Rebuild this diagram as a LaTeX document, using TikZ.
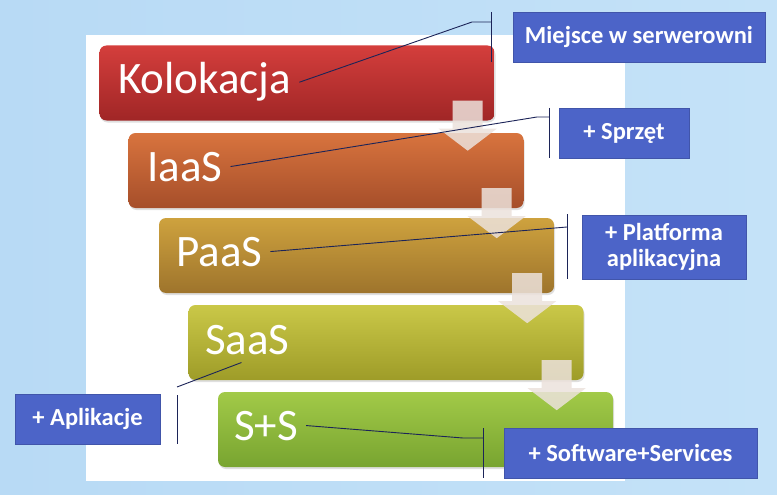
\documentclass[tikz,border=0pt]{standalone}
\usepackage{fontspec}
\setmainfont{Carlito}
\usepackage{xcolor}
\usepackage{tikz}
\usetikzlibrary{shadows,calc,backgrounds}

\definecolor{bgleft}{RGB}{184,218,245}
\definecolor{bgmid}{RGB}{226,240,252}
\definecolor{bgright}{RGB}{196,226,248}
\definecolor{callblue}{RGB}{76,100,200}
\definecolor{linkblue}{RGB}{28,36,88}
\definecolor{arrowfill}{RGB}{236,226,220}
\definecolor{kolT}{RGB}{212,62,60}
\definecolor{kolB}{RGB}{160,38,38}
\definecolor{iaasT}{RGB}{216,116,62}
\definecolor{iaasB}{RGB}{166,78,42}
\definecolor{paasT}{RGB}{206,162,62}
\definecolor{paasB}{RGB}{158,116,44}
\definecolor{saasT}{RGB}{202,200,72}
\definecolor{saasB}{RGB}{158,156,40}
\definecolor{ssT}{RGB}{162,202,72}
\definecolor{ssB}{RGB}{120,164,48}

\begin{document}
\begin{tikzpicture}[x=1pt,y=-1pt,
    stepbox/.style={rounded corners=7pt,minimum width=395pt,minimum height=75pt,
      inner sep=0pt,drop shadow={shadow xshift=1pt,shadow yshift=-2pt,opacity=0.25}},
    steptext/.style={text=white,font=\fontsize{45}{45}\selectfont,inner sep=8pt,anchor=base west},
    callout/.style={fill=callblue,draw=callblue!85!black,line width=0.6pt,text=white,
      font=\fontsize{24.5}{26}\selectfont\bfseries,inner sep=0pt,align=center},
    link/.style={draw=linkblue,line width=0.9pt}]
      \useasboundingbox (0,0) rectangle (777,495);
      % background and white panel
      \shade [left color=bgleft,middle color=bgmid,right color=bgright] (0,0) rectangle (777,495);
      \fill [white] (86,35) rectangle (625,481);
      % the five steps
      \node (kol) at (297,83) [stepbox,top color=kolT,bottom color=kolB] {};
      \node (iaas) at (326,170.5) [stepbox,top color=iaasT,bottom color=iaasB] {};
      \node (paas) at (356.5,255.5) [stepbox,top color=paasT,bottom color=paasB] {};
      \node (saas) at (386,342.5) [stepbox,top color=saasT,bottom color=saasB] {};
      \node (ss) at (415.5,429.5) [stepbox,top color=ssT,bottom color=ssB] {};
      \node (kolt) at (110,94) [steptext] {Kolokacja};
      \node (iaast) at (139,181) [steptext] {IaaS};
      \node (paast) at (168,266) [steptext] {PaaS};
      \node (saast) at (197,354) [steptext] {SaaS};
      \node (sst) at (226,440) [steptext] {S+S};
      % arrows between steps
      \foreach \b in {kol,iaas,paas,saas}
        \fill [arrowfill,opacity=0.85] ($(\b.south east)+(-42,-20)$) -- ++(30,0) -- ++(0,28)
          -- ++(14,0) -- ($(\b.south east)+(-27,30)$) -- ($(\b.south east)+(-56,8)$)
          -- ++(14,0) -- cycle;
      % callouts
      \node (miejsce) at (639,37) [callout,minimum width=252pt,minimum height=50pt] {Miejsce w serwerowni};
      \node (sprzet) at (624,133) [callout,minimum width=130pt,minimum height=50pt] {+ Sprzęt};
      \node (platforma) at (664,247) [callout,minimum width=164pt,minimum height=64pt] {+ Platforma\\aplikacyjna};
      \node (aplikacje) at (87.5,419) [callout,minimum width=145pt,minimum height=50pt] {+ Aplikacje};
      \node (software) at (630.5,453) [callout,minimum width=253pt,minimum height=50pt] {+ Software+Services};
      % brackets
      \coordinate (m1) at (472,22);   \coordinate (m2) at (491,22);
      \coordinate (mt) at (491,12);   \coordinate (mb) at (491,62);
      \coordinate (s1) at (537,117);  \coordinate (s2) at (549,117);
      \coordinate (st) at (549,108);  \coordinate (sb) at (549,158);
      \coordinate (p1) at (567,227);
      \coordinate (pt) at (567,214);  \coordinate (pb) at (567,279);
      \coordinate (a1) at (177,387);
      \coordinate (at) at (177,395);  \coordinate (ab) at (177,444);
      \coordinate (w1) at (463,438);  \coordinate (w2) at (483,438);
      \coordinate (wt) at (483,428);  \coordinate (wb) at (483,478);
      \draw [link] (mt) -- (mb);
      \draw [link] (st) -- (sb);
      \draw [link] (pt) -- (pb);
      \draw [link] (at) -- (ab);
      \draw [link] (wt) -- (wb);
      % connectors
      \draw [link] (kolt.east) -- (m1) -- (m2);
      \draw [link] (iaast.east) -- (s1) -- (s2);
      \draw [link] (paast.east) -- (p1);
      \draw [link] ([xshift=-6pt]saast.south) -- (a1);
      \draw [link] (sst.east) -- (w1) -- (w2);
    \end{tikzpicture}
\end{document}
